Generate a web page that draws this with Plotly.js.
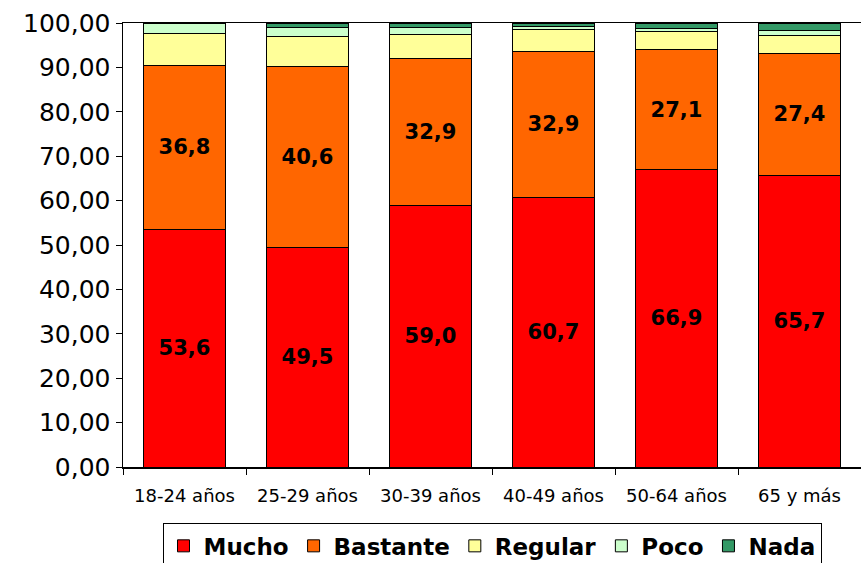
<!DOCTYPE html>
<html><head><meta charset="utf-8">
<script src="https://cdn.plot.ly/plotly-3.0.1.min.js"></script>
<style>body{margin:0;background:#fff}#c{width:861px;height:563px}</style>
</head><body><div id="c"></div>
<script>
const categories = ["18-24 años","25-29 años","30-39 años","40-49 años","50-64 años","65 y más"];
const mucho    = [53.6, 49.5, 59.0, 60.7, 66.9, 65.7];
const bastante = [36.8, 40.6, 32.9, 32.9, 27.1, 27.4];
const regular  = [7.3, 6.8, 5.6, 4.9, 4.1, 4.0];
const poco     = [2.3, 2.1, 1.5, 0.8, 0.6, 1.3];
const nada     = [0.0, 1.0, 1.0, 0.7, 1.3, 1.6];
const seriesNames = ["Mucho","Bastante","Regular","Poco","Nada"];
const colors = ["#FF0000","#FF6600","#FFFF99","#CCFFCC","#339966"];
const values = [mucho, bastante, regular, poco, nada];
const fmt = v => v.toFixed(1).replace(".", ",");
const traces = values.map((vals, i) => ({
  type: "bar", name: seriesNames[i], x: categories, y: vals,
  marker: {color: colors[i], line: {color: "#000", width: 1}},
  text: i < 2 ? vals.map(fmt) : undefined,
  textposition: i < 2 ? "inside" : "none",
  insidetextanchor: "middle",
  textfont: {family: "DejaVu Sans", size: 21, color: "#000", weight: "bold"},
  hoverinfo: "skip"
}));
const layout = {
  barmode: "stack", bargap: 0.333,
  separators: ",.",
  width: 861, height: 563,
  margin: {l: 123, r: 0, t: 23, b: 96, autoexpand: false},
  paper_bgcolor: "#fff", plot_bgcolor: "#fff",
  font: {family: "DejaVu Sans", color: "#000"},
  xaxis: {type: "category", showline: true, linecolor: "#000", linewidth: 1.5, mirror: true,
          ticks: "outside", tickson: "boundaries", ticklen: 6, tickcolor: "#000",
          tickfont: {size: 18}, showgrid: false, ticklabelstandoff: 12},
  yaxis: {range: [0, 100], dtick: 10, tickformat: ".2f", showline: true, linecolor: "#000", linewidth: 1.5,
          ticks: "outside", ticklen: 6, tickcolor: "#000", showgrid: false, zeroline: false,
          tickfont: {size: 25}},
  showlegend: true,
  legend: {orientation: "h", x: 0.5, xanchor: "center", y: -0.127, yanchor: "top",
           bordercolor: "#000", borderwidth: 1, font: {size: 23, weight: "bold"},
           traceorder: "normal", itemwidth: 30}
};
Plotly.newPlot("c", traces, layout, {displayModeBar: false, staticPlot: true});
</script></body></html>
